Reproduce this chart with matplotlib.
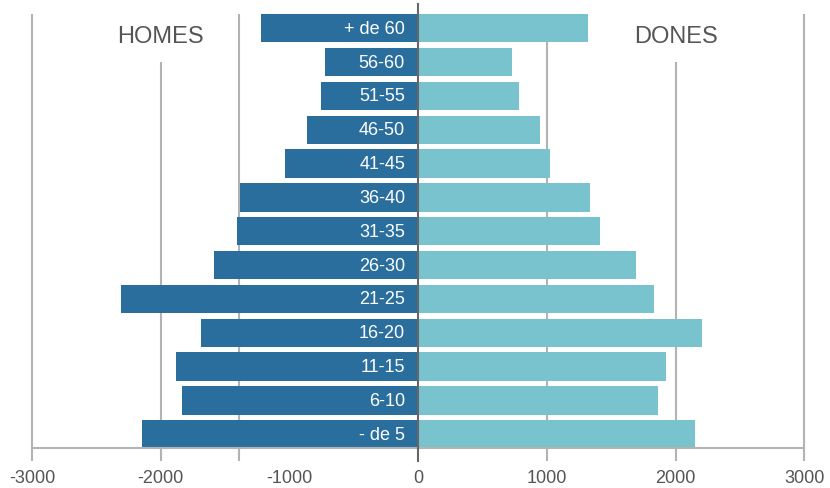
import matplotlib
matplotlib.use("Agg")
import matplotlib.pyplot as plt
import numpy as np

plt.rcParams['font.family'] = ['Liberation Sans', 'DejaVu Sans']

# Age groups, listed from the top of the pyramid down
groups = ['+ de 60', '56-60', '51-55', '46-50', '41-45', '36-40', '31-35',
          '26-30', '21-25', '16-20', '11-15', '6-10', '- de 5']
homes = [1220, 723, 754, 862, 1033, 1383, 1406, 1585, 2308, 1686, 1880, 1834, 2145]
dones = [1321, 730, 785, 948, 1026, 1336, 1414, 1694, 1834, 2207, 1927, 1865, 2152]
ticks = [-3000, -2000, -1000, 0, 1000, 2000, 3000]
# the original draws its grid lines here (the "-1000" one sits off its label)
grid_x = [-3000, -2000, -1390, 1000, 2000, 3000]

dark = '#2a6e9e'
light = '#79c3cf'
grid_col = '#b3b3b3'
text_col = '#555555'

fig = plt.figure(figsize=(8.3, 4.89), dpi=100)
ax = fig.add_axes([0.0386, 0.0808, 0.9305, 0.8885])

# bottom group at y=0, top at the highest index
y = np.arange(len(groups))[::-1]

# grid lines, they also run below the axis as tick marks
ax.vlines(grid_x, -0.79, 12.42, color=grid_col, lw=1.5, zorder=0, clip_on=False)

ax.barh(y, [-v for v in homes], height=0.84, color=dark, zorder=2)
ax.barh(y, dones, height=0.84, color=light, zorder=2)

# zero line, runs a bit above the plot
ax.plot([0, 0], [-0.79, 12.72], color='#666666', lw=1.5, zorder=3, clip_on=False)

for yy, g in zip(y, groups):
    ax.annotate(g, (0, yy), xytext=(-9.5, 0), textcoords='offset points',
                ha='right', va='center', color='white', fontsize=13, zorder=4)

ax.text(-2000, 11.77, 'HOMES', ha='center', va='center', fontsize=17, color=text_col,
        zorder=1, bbox=dict(fc='white', ec='none', pad=10.5))
ax.text(2000, 11.77, 'DONES', ha='center', va='center', fontsize=17, color=text_col,
        zorder=1, bbox=dict(fc='white', ec='none', pad=10.5))

ax.set_xlim(-3000, 3000)
ax.set_ylim(-0.42, 12.42)
ax.set_xticks(ticks)
ax.set_xticklabels([str(t) for t in ticks])
ax.set_yticks([])
ax.tick_params(axis='x', length=0, labelsize=13, labelcolor=text_col, pad=15)

for side in ['top', 'left', 'right']:
    ax.spines[side].set_visible(False)
ax.spines['bottom'].set_color(grid_col)
ax.spines['bottom'].set_linewidth(1.5)

fig.savefig('out.png', dpi=100)
